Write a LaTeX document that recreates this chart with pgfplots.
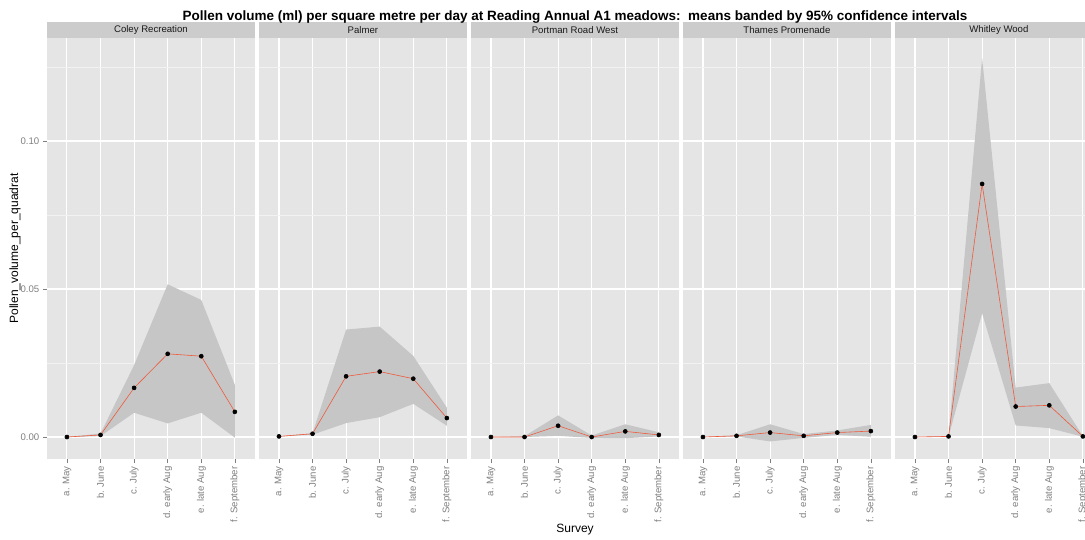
\documentclass[border=0pt]{standalone}
\usepackage{fontspec}
\setmainfont{Liberation Sans}
\usepackage{pgfplots}
\usepackage{pgfplotstable}
\pgfplotsset{compat=1.18}
\usepgfplotslibrary{fillbetween}
\definecolor{panelbg}{HTML}{E5E5E5}
\definecolor{stripbg}{HTML}{CCCCCC}
\definecolor{minorg}{HTML}{F2F2F2}
\definecolor{tickg}{HTML}{7F7F7F}
\definecolor{bandc}{HTML}{C6C6C6}
\definecolor{lred}{HTML}{EE5A3C}

\pgfplotstableread{
x m lo hi
1 0 0 0
2 0.0007 0.0003 0.0012
3 0.0166 0.0082 0.0243
4 0.0281 0.0046 0.0516
5 0.0273 0.0082 0.0463
6 0.0085 -0.0002 0.0176
}\coley
\pgfplotstableread{
x m lo hi
1 0.0002 0.0002 0.0002
2 0.0011 0.0008 0.0013
3 0.0205 0.0047 0.0363
4 0.0221 0.0067 0.0373
5 0.0197 0.0112 0.0274
6 0.0064 0.0038 0.0099
}\palmer
\pgfplotstableread{
x m lo hi
1 0 0 0
2 0 0 0.0003
3 0.0038 0.0004 0.0073
4 0 -0.0003 0.0005
5 0.0019 -0.0004 0.0043
6 0.0007 0.0002 0.0016
}\portman
\pgfplotstableread{
x m lo hi
1 0 0 0
2 0.0004 0.0002 0.0006
3 0.0015 -0.0015 0.0043
4 0.0004 -0.0003 0.0010
5 0.0015 0.0007 0.0022
6 0.0020 0.0001 0.0041
}\thames
\pgfplotstableread{
x m lo hi
1 0 0 0
2 0.0002 0.0001 0.0003
3 0.0855 0.0418 0.1281
4 0.0103 0.0039 0.0167
5 0.0107 0.0030 0.0182
6 0.0002 0.0001 0.0003
}\whitley

\pgfplotsset{
  panel/.style={
    scale only axis, width=208.2pt, height=421pt,
    xmin=0.4, xmax=6.6, ymin=-0.00743, ymax=0.1348,
    axis background/.style={fill=panelbg},
    axis line style={draw=none},
    xtick={1,...,6},
    xticklabels={a. May, b. June, c. July, d. early Aug, e. late Aug, f. September},
    x tick label style={rotate=90, anchor=east, font=\fontsize{9.6}{11}\selectfont, text=tickg},
    y tick label style={font=\fontsize{9.6}{11}\selectfont, text=tickg},
    ytick={0,0.05,0.1}, yticklabels={0.00,0.05,0.10},
    minor ytick={0.025,0.075,0.125},
    grid=both,
    major grid style={white, line width=1.1pt},
    minor grid style={minorg, line width=0.5pt},
    tick align=outside, major tick length=4pt, minor tick length=0pt,
    tick style={tickg, line width=0.5pt},
    xtick pos=bottom, ytick pos=left,
    title style={at={(0.5,1)}, anchor=south, fill=stripbg, minimum width=208.2pt,
      minimum height=16pt, inner sep=0pt, yshift=-6pt,
      font=\fontsize{9.6}{11}\selectfont, text=black!90},
  },
  noy/.style={yticklabels={}, y tick style={draw=none}},
}

\newcommand{\panel}[1]{%
  \addplot[name path=hi, draw=none, forget plot] table[x=x,y=hi]{#1};
  \addplot[name path=lo, draw=none, forget plot] table[x=x,y=lo]{#1};
  \addplot[bandc, draw=none] fill between[of=hi and lo];
  \addplot[lred, line width=0.6pt, mark=*, mark size=2pt, mark options={fill=black, draw=black}] table[x=x,y=m]{#1};
}

\begin{document}
\begin{tikzpicture}
\begin{axis}[panel, at={(46.8pt,80pt)}, anchor=south west, title={Coley Recreation}]
\panel{\coley}
\end{axis}
\begin{axis}[panel, noy, at={(258.8pt,80pt)}, anchor=south west, title={Palmer}]
\panel{\palmer}
\end{axis}
\begin{axis}[panel, noy, at={(470.8pt,80pt)}, anchor=south west, title={Portman Road West}]
\panel{\portman}
\end{axis}
\begin{axis}[panel, noy, at={(682.8pt,80pt)}, anchor=south west, title={Thames Promenade}]
\panel{\thames}
\end{axis}
\begin{axis}[panel, noy, at={(894.8pt,80pt)}, anchor=south west, title={Whitley Wood}]
\panel{\whitley}
\end{axis}
\node[font=\bfseries\fontsize{13.5}{16}\selectfont] at (575pt,522pt) {Pollen volume (ml) per square metre per day at Reading Annual A1 meadows:\ \ means banded by 95\% confidence intervals};
\node[font=\fontsize{12}{14}\selectfont] at (575pt,9pt) {Survey};
\node[font=\fontsize{12}{14}\selectfont, rotate=90] at (15pt,290.5pt) {Pollen\_volume\_per\_quadrat};
\pgfresetboundingbox
\path[use as bounding box] (0pt,0pt) rectangle (1085pt,539pt);
\end{tikzpicture}
\end{document}
